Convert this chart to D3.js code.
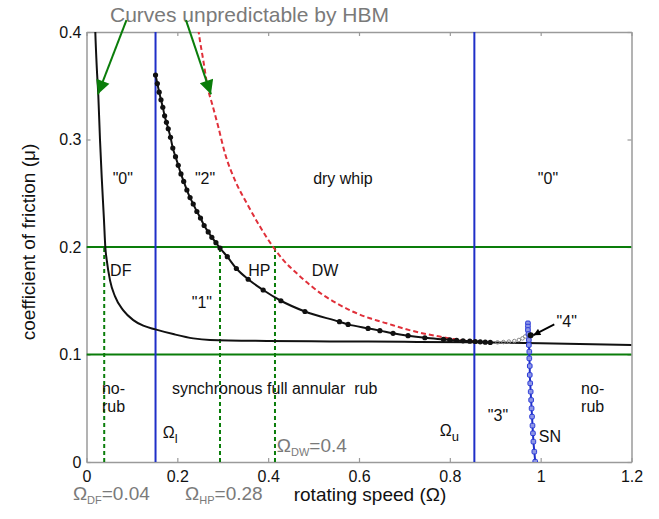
<!DOCTYPE html>
<html>
<head>
<meta charset="utf-8">
<script src="https://cdn.jsdelivr.net/npm/d3@7"></script>
<style>
body { margin: 0; background: #fff; }
text { font-family: "Liberation Sans", Arial, sans-serif; }
</style>
</head>
<body>
<div id="chart"></div>
<script>
/* -----------------------
data
------------------------- */

var xTicks = [0, 0.2, 0.4, 0.6, 0.8, 1, 1.2];
var yTicks = [0, 0.1, 0.2, 0.3, 0.4];

// DF curve (solid black)
var dfOmega = [0.018, 0.0194, 0.0225, 0.026, 0.0297, 0.0335, 0.0385, 0.0414, 0.0445, 0.0518, 0.0628, 0.081, 0.103, 0.125, 0.1516, 0.191, 0.235, 0.272, 0.397, 0.536, 0.7, 0.85, 1.0, 1.2];
var dfMu    = [0.42, 0.4, 0.368, 0.341, 0.300, 0.265, 0.225, 0.200, 0.188, 0.169, 0.154, 0.141, 0.132, 0.1268, 0.1234, 0.119, 0.115, 0.1135, 0.1126, 0.1122, 0.1118, 0.1114, 0.1104, 0.1088];

// HP curve (black with markers)
var hpOmega = [0.152, 0.156, 0.160, 0.164, 0.168, 0.172, 0.176, 0.180, 0.185, 0.190, 0.196, 0.202, 0.208, 0.214, 0.221, 0.228, 0.235, 0.243, 0.251, 0.259, 0.268, 0.276, 0.285, 0.294, 0.310, 0.330, 0.356, 0.389, 0.428, 0.481, 0.557, 0.576, 0.620, 0.646, 0.675, 0.708, 0.745, 0.786, 0.800, 0.815, 0.829, 0.844, 0.856, 0.867, 0.878, 0.889];
var hpMu    = [0.360, 0.352, 0.344, 0.337, 0.330, 0.322, 0.316, 0.310, 0.302, 0.292, 0.284, 0.276, 0.268, 0.261, 0.253, 0.246, 0.240, 0.233, 0.227, 0.220, 0.214, 0.209, 0.204, 0.199, 0.191, 0.180, 0.170, 0.160, 0.150, 0.140, 0.1305, 0.128, 0.1243, 0.1222, 0.1197, 0.1175, 0.1156, 0.1141, 0.1136, 0.1131, 0.1127, 0.1124, 0.1121, 0.1118, 0.1115, 0.1112];

// DW curve (red dashed)
var dwOmega = [0.244, 0.247, 0.257, 0.268, 0.276, 0.290, 0.305, 0.327, 0.353, 0.382, 0.411, 0.433, 0.463, 0.492, 0.521, 0.551, 0.587, 0.624, 0.661, 0.697, 0.734, 0.771, 0.808, 0.844, 0.856];
var dwMu    = [0.41, 0.4, 0.374, 0.346, 0.334, 0.312, 0.287, 0.262, 0.2406, 0.219, 0.2, 0.188, 0.1755, 0.1647, 0.1553, 0.1476, 0.1398, 0.1337, 0.129, 0.1243, 0.1203, 0.1172, 0.1144, 0.1126, 0.1121];

// faint points before "4"
var grayOmega = [0.905, 0.918, 0.93, 0.942, 0.952, 0.96, 0.966];
var grayMu    = [0.1113, 0.1116, 0.112, 0.1125, 0.1135, 0.115, 0.1168];

// SN curve (blue with markers)
var snOmega = [0.972, 0.972, 0.972, 0.973, 0.974, 0.974, 0.975, 0.975, 0.976, 0.976, 0.977, 0.978, 0.979, 0.980, 0.981, 0.982, 0.983, 0.984, 0.986, 0.988];
var snMu    = [0.129, 0.126, 0.1228, 0.119, 0.1135, 0.1088, 0.1026, 0.0964, 0.0893, 0.081, 0.0732, 0.0654, 0.0577, 0.0499, 0.0422, 0.0338, 0.0267, 0.0189, 0.0096, 0.0003];

var boundaryOmega = [0.152, 0.854];        // Ω_l, Ω_u
var levelMu = [0.1, 0.2];                   // green horizontals
var criticalOmega = [0.039, 0.294, 0.415];  // green dotted verticals

var regionLabels = [
	{t: '"0"', x: 0.08, y: 0.264, a: 'middle'},
	{t: '"2"', x: 0.261, y: 0.264, a: 'middle'},
	{t: 'dry whip', x: 0.499, y: 0.264, a: 'start'},
	{t: '"0"', x: 1.016, y: 0.264, a: 'middle'},
	{t: 'DF', x: 0.052, y: 0.1786, a: 'start'},
	{t: 'HP', x: 0.356, y: 0.1786, a: 'start'},
	{t: 'DW', x: 0.496, y: 0.1786, a: 'start'},
	{t: '"1"', x: 0.254, y: 0.148, a: 'middle'},
	{t: 'no-', x: 0.034, y: 0.0688, a: 'start'},
	{t: 'rub', x: 0.034, y: 0.0512, a: 'start'},
	{t: 'synchronous full annular  rub', x: 0.188, y: 0.0688, a: 'start'},
	{t: '"3"', x: 0.906, y: 0.0437, a: 'middle'},
	{t: 'SN', x: 0.996, y: 0.0233, a: 'start'},
	{t: 'no-', x: 1.089, y: 0.0688, a: 'start'},
	{t: 'rub', x: 1.089, y: 0.0512, a: 'start'},
	{t: '"4"', x: 1.035, y: 0.1305, a: 'start'}
];

/* -----------------------
main variables
------------------------- */

var width = 659, height = 519;
var margin = {top: 32, right: 27.5, bottom: 57, left: 86.5};

var c_blue = '#1f2fc8',
	c_green = '#0a7d0a',
	c_red = '#e0303a',
	c_axis = '#9a9a9a',
	c_gray = '#7a7a7a';

var x = d3.scaleLinear().domain([0, 1.2]).range([margin.left, width - margin.right]);
var y = d3.scaleLinear().domain([0, 0.4]).range([height - margin.bottom, margin.top]);

var svg = d3.select('#chart').append('svg')
	.attr('width', width)
	.attr('height', height);

var defs = svg.append('defs');
defs.append('clipPath').attr('id', 'clip')
	.append('rect')
	.attr('x', x(0)).attr('y', y(0.4))
	.attr('width', x(1.2) - x(0)).attr('height', y(0) - y(0.4));

function arrowHead(id, color, w, h) {
	defs.append('marker')
		.attr('id', id)
		.attr('viewBox', '0 0 10 10')
		.attr('refX', 10).attr('refY', 5)
		.attr('markerUnits', 'userSpaceOnUse')
		.attr('markerWidth', w).attr('markerHeight', h)
		.attr('orient', 'auto')
		.append('path')
		.attr('d', 'M0,0L10,5L0,10z')
		.attr('fill', color);
}
arrowHead('arrowGreen', c_green, 19, 14);
arrowHead('arrowBlack', 'black', 9, 7);

/* -----------------------
axes
------------------------- */

var fmt = d3.format('~g');

function styleAxis(g) {
	g.select('.domain').attr('stroke', c_axis).attr('stroke-width', 1.5);
	g.selectAll('.tick line').attr('stroke', c_axis).attr('stroke-width', 1.2);
	g.selectAll('.tick text').attr('fill', '#111').attr('font-size', 16)
		.attr('font-family', '"Liberation Sans", Arial, sans-serif');
}

svg.append('g')
	.attr('transform', 'translate(0,' + y(0) + ')')
	.call(d3.axisBottom(x).tickValues(xTicks).tickFormat(fmt).tickSize(-4).tickSizeOuter(0).tickPadding(9))
	.call(styleAxis);
svg.append('g')
	.attr('transform', 'translate(0,' + y(0.4) + ')')
	.call(d3.axisTop(x).tickValues(xTicks).tickFormat('').tickSize(-4).tickSizeOuter(0))
	.call(styleAxis);
svg.append('g')
	.attr('transform', 'translate(' + x(0) + ',0)')
	.call(d3.axisLeft(y).tickValues(yTicks).tickFormat(fmt).tickSize(-4).tickSizeOuter(0).tickPadding(5))
	.call(styleAxis);
svg.append('g')
	.attr('transform', 'translate(' + x(1.2) + ',0)')
	.call(d3.axisRight(y).tickValues(yTicks).tickFormat('').tickSize(-4).tickSizeOuter(0))
	.call(styleAxis);

/* -----------------------
plot
------------------------- */

var plot = svg.append('g').attr('clip-path', 'url(#clip)');

function pts(xs, ys) { return xs.map(function (d, i) { return [d, ys[i]]; }); }

var line = d3.line()
	.x(function (d) { return x(d[0]); })
	.y(function (d) { return y(d[1]); })
	.curve(d3.curveMonotoneX);

// green horizontals
plot.selectAll('.level').data(levelMu).enter().append('line')
	.attr('x1', x(0)).attr('x2', x(1.2))
	.attr('y1', function (d) { return y(d); }).attr('y2', function (d) { return y(d); })
	.attr('stroke', c_green).attr('stroke-width', 2);

// green dotted verticals
plot.selectAll('.crit').data(criticalOmega).enter().append('line')
	.attr('x1', function (d) { return x(d); }).attr('x2', function (d) { return x(d); })
	.attr('y1', y(0)).attr('y2', y(0.2))
	.attr('stroke', c_green).attr('stroke-width', 2).attr('stroke-dasharray', '4,3');

// blue verticals
plot.selectAll('.bound').data(boundaryOmega).enter().append('line')
	.attr('x1', function (d) { return x(d); }).attr('x2', function (d) { return x(d); })
	.attr('y1', y(0)).attr('y2', y(0.4))
	.attr('stroke', c_blue).attr('stroke-width', 2);

// DF
plot.append('path').datum(pts(dfOmega, dfMu))
	.attr('d', line).attr('fill', 'none').attr('stroke', '#111').attr('stroke-width', 2);

// DW
plot.append('path').datum(pts(dwOmega, dwMu))
	.attr('d', line).attr('fill', 'none').attr('stroke', c_red).attr('stroke-width', 2)
	.attr('stroke-dasharray', '5,3');

// HP
var hp = pts(hpOmega, hpMu);
plot.append('path').datum(hp)
	.attr('d', line).attr('fill', 'none').attr('stroke', '#111').attr('stroke-width', 2);
plot.selectAll('.hp').data(hp).enter().append('circle')
	.attr('cx', function (d) { return x(d[0]); }).attr('cy', function (d) { return y(d[1]); })
	.attr('r', 2.6).attr('fill', '#111');

// faint points
plot.selectAll('.gp').data(pts(grayOmega, grayMu)).enter().append('circle')
	.attr('cx', function (d) { return x(d[0]); }).attr('cy', function (d) { return y(d[1]); })
	.attr('r', 1.8).attr('fill', 'none').attr('stroke', '#888').attr('stroke-width', 1);

// SN
var sn = pts(snOmega, snMu);
plot.append('path').datum(sn)
	.attr('d', d3.line().x(function (d) { return x(d[0]); }).y(function (d) { return y(d[1]); }))
	.attr('fill', 'none').attr('stroke', c_blue).attr('stroke-width', 2);
plot.selectAll('.sn').data(sn).enter().append('rect')
	.attr('x', function (d) { return x(d[0]) - 2.3; }).attr('y', function (d) { return y(d[1]) - 2.3; })
	.attr('width', 4.6).attr('height', 4.6).attr('rx', 1.2)
	.attr('fill', '#8d96e6').attr('stroke', '#2a3ad8').attr('stroke-width', 1);

// "4" point
plot.append('circle').attr('cx', x(0.978)).attr('cy', y(0.118)).attr('r', 3).attr('fill', '#111');

/* -----------------------
labels
------------------------- */

svg.selectAll('.rl').data(regionLabels).enter().append('text')
	.attr('x', function (d) { return x(d.x); }).attr('y', function (d) { return y(d.y); })
	.attr('text-anchor', function (d) { return d.a; })
	.attr('dominant-baseline', 'central')
	.attr('font-size', 16).attr('fill', '#111')
	.style('white-space', 'pre')
	.text(function (d) { return d.t; });

// "4" arrow
svg.append('line')
	.attr('x1', x(1.03)).attr('y1', y(0.128))
	.attr('x2', x(0.984)).attr('y2', y(0.118))
	.attr('stroke', 'black').attr('stroke-width', 1.8)
	.attr('marker-end', 'url(#arrowBlack)');

// Ω labels with subscripts
function omegaLabel(xv, yv, sub, size, subSize, color, rest) {
	var t = svg.append('text')
		.attr('x', x(xv)).attr('y', y(yv))
		.attr('dominant-baseline', 'central')
		.attr('font-size', size).attr('fill', color);
	t.append('tspan').text('Ω');
	t.append('tspan').attr('font-size', subSize).attr('dy', size * 0.38).text(sub);
	if (rest) t.append('tspan').attr('dy', -size * 0.38).text(rest);
	return t;
}
omegaLabel(0.168, 0.0282, 'l', 16, 13, '#111');
omegaLabel(0.778, 0.0298, 'u', 16, 13, '#111');

// gray annotations
omegaLabel(0.419, 0.0158, 'DW', 19, 11, c_gray, '=0.4');
omegaLabel(-0.03, -0.029, 'DF', 19, 11, c_gray, '=0.04');
omegaLabel(0.217, -0.029, 'HP', 19, 11, c_gray, '=0.28');

svg.append('text')
	.attr('x', x(0.0517)).attr('y', y(0.4167))
	.attr('dominant-baseline', 'central')
	.attr('font-size', 21).attr('fill', c_gray)
	.text('Curves unpredictable by HBM');

// green arrows
var greenArrows = [
	[[0.088, 0.411], [0.025, 0.342]],
	[[0.219, 0.411], [0.274, 0.342]]
];
svg.selectAll('.ga').data(greenArrows).enter().append('line')
	.attr('x1', function (d) { return x(d[0][0]); }).attr('y1', function (d) { return y(d[0][1]); })
	.attr('x2', function (d) { return x(d[1][0]); }).attr('y2', function (d) { return y(d[1][1]); })
	.attr('stroke', c_green).attr('stroke-width', 2)
	.attr('marker-end', 'url(#arrowGreen)');

// axis titles
svg.append('text')
	.attr('x', 370).attr('y', 501)
	.attr('text-anchor', 'middle')
	.attr('font-size', 19).attr('fill', '#111')
	.text('rotating speed (Ω)');

svg.append('text')
	.attr('transform', 'translate(28,242) rotate(-90)')
	.attr('text-anchor', 'middle')
	.attr('dominant-baseline', 'central')
	.attr('font-size', 19).attr('fill', '#111')
	.text('coefficient of friction (μ)');
</script>
</body>
</html>
